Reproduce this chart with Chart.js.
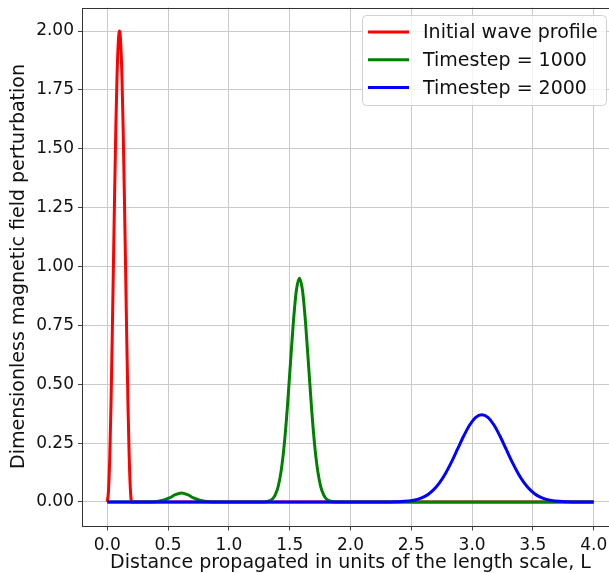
<!DOCTYPE html>
<html>
<head>
<meta charset="utf-8">
<script src="https://cdn.jsdelivr.net/npm/chart.js@4.4.1/dist/chart.umd.min.js"></script>
<style>
  html, body { margin: 0; padding: 0; background: #fff; overflow: hidden; }
  #wrap { width: 609px; height: 573px; overflow: hidden; }
</style>
</head>
<body>
<div id="wrap"><canvas id="waveChart" width="620" height="573"></canvas></div>
<script>
// Values
const redX = [0, 0.01, 0.02, 0.03, 0.04, 0.05, 0.06, 0.07, 0.08, 0.09, 0.10, 0.11, 0.12, 0.13, 0.14, 0.15, 0.16, 0.17, 0.18, 0.19, 0.20, 4.0];
const redY = [0, 0.05, 0.19, 0.41, 0.69, 1.0, 1.31, 1.59, 1.81, 1.95, 2.0, 1.95, 1.81, 1.59, 1.31, 1.0, 0.69, 0.41, 0.19, 0.05, 0, 0];

const greenX = [0, 0.36, 0.41, 0.46, 0.51, 0.56, 0.61, 0.66, 0.71, 0.76, 0.81, 0.86,
    1.28, 1.33, 1.355, 1.38, 1.405, 1.43, 1.455, 1.48, 1.505, 1.53, 1.555, 1.58,
    1.605, 1.63, 1.655, 1.68, 1.705, 1.73, 1.755, 1.78, 1.805, 1.83, 1.88, 4.0];
const greenY = [0, 0, 0.002, 0.007, 0.017, 0.031, 0.038, 0.031, 0.017, 0.007, 0.002, 0,
    0, 0.004, 0.011, 0.029, 0.065, 0.133, 0.242, 0.396, 0.581, 0.763, 0.899, 0.95,
    0.899, 0.763, 0.581, 0.396, 0.242, 0.133, 0.065, 0.029, 0.011, 0.004, 0, 0];

const blueX = [0, 2.28, 2.38, 2.48, 2.53, 2.58, 2.63, 2.68, 2.73, 2.78, 2.83, 2.88, 2.93, 2.98,
    3.03, 3.08, 3.13, 3.18, 3.23, 3.28, 3.33, 3.38, 3.43, 3.48, 3.53, 3.58, 3.63, 3.68, 3.78, 3.88, 4.0];
const blueY = [0, 0, 0.001, 0.004, 0.008, 0.016, 0.029, 0.050, 0.080, 0.120, 0.169, 0.224, 0.279, 0.327,
    0.359, 0.37, 0.359, 0.327, 0.279, 0.224, 0.169, 0.120, 0.080, 0.050, 0.029, 0.016, 0.008, 0.004, 0.001, 0, 0];

const seriesLabels = ['Initial wave profile', 'Timestep = 1000', 'Timestep = 2000'];
const xTicks = [0, 0.5, 1.0, 1.5, 2.0, 2.5, 3.0, 3.5, 4.0];
const xTickLabels = ['0.0', '0.5', '1.0', '1.5', '2.0', '2.5', '3.0', '3.5', '4.0'];
const yTicks = [0, 0.25, 0.5, 0.75, 1.0, 1.25, 1.5, 1.75, 2.0];
const yTickLabels = ['0.00', '0.25', '0.50', '0.75', '1.00', '1.25', '1.50', '1.75', '2.00'];

const toPoints = (xs, ys) => xs.map((x, i) => ({ x: x, y: ys[i] }));

Chart.defaults.font.family = "'DejaVu Sans', sans-serif";
Chart.defaults.color = '#111';

// frame round the plot area, like matplotlib spines
const framePlugin = {
    id: 'frame',
    afterDraw(chart) {
        const a = chart.chartArea;
        const ctx = chart.ctx;
        ctx.save();
        ctx.strokeStyle = '#333';
        ctx.lineWidth = 1;
        ctx.strokeRect(Math.round(a.left) - 0.5, Math.round(a.top) + 0.5, Math.round(a.right - a.left), Math.round(a.bottom - a.top));
        ctx.restore();
    }
};

// boxed legend in the upper right corner
const boxLegend = {
    id: 'boxLegend',
    afterDraw(chart) {
        const ctx = chart.ctx;
        const x = 362.5, y = 15.5, w = 244, h = 90, r = 4;
        ctx.save();
        ctx.beginPath();
        ctx.roundRect(x, y, w, h, r);
        ctx.fillStyle = 'rgba(255,255,255,0.8)';
        ctx.fill();
        ctx.strokeStyle = '#d0d0d0';
        ctx.lineWidth = 1;
        ctx.stroke();
        ctx.font = "19px 'DejaVu Sans'";
        ctx.textBaseline = 'middle';
        chart.data.datasets.forEach((ds, i) => {
            const ly = 32 + i * 27.8;
            ctx.beginPath();
            ctx.moveTo(368, ly);
            ctx.lineTo(409, ly);
            ctx.strokeStyle = ds.borderColor;
            ctx.lineWidth = 3;
            ctx.stroke();
            ctx.fillStyle = '#111';
            ctx.fillText(ds.label, 423, ly + 1);
        });
        ctx.restore();
    }
};

const config = {
    type: 'line',
    data: {
        datasets: [
            { label: seriesLabels[0], data: toPoints(redX, redY), borderColor: '#ff0000', order: 3 },
            { label: seriesLabels[1], data: toPoints(greenX, greenY), borderColor: '#008000', order: 2 },
            { label: seriesLabels[2], data: toPoints(blueX, blueY), borderColor: '#0000ff', order: 1 }
        ]
    },
    options: {
        responsive: false,
        animation: false,
        datasets: {
            line: { borderWidth: 3, pointRadius: 0, fill: false, cubicInterpolationMode: 'monotone' }
        },
        layout: { padding: { top: 7.5, right: 2, left: 0, bottom: 0 } },
        plugins: {
            legend: { display: false },
            tooltip: { enabled: false }
        },
        scales: {
            x: {
                type: 'linear',
                min: -0.2,
                max: 4.2,
                afterFit(s) { s.height = 47.5; s.paddingLeft = 0; s.paddingRight = 0; },
                afterBuildTicks(s) { s.ticks = xTicks.map(v => ({ value: v })); },
                border: { display: false },
                grid: { color: '#cacaca', lineWidth: 1, tickColor: '#444', tickLength: 5 },
                ticks: {
                    font: { size: 17 },
                    padding: 5,
                    maxRotation: 0,
                    callback: (v, i) => xTickLabels[i]
                },
                title: {
                    display: true,
                    text: 'Distance propagated in units of the length scale, L',
                    font: { size: 19 },
                    padding: { top: 0, bottom: -1 }
                }
            },
            y: {
                type: 'linear',
                min: -0.1,
                max: 2.1,
                afterFit(s) { s.width = 83; s.paddingTop = 0; s.paddingBottom = 0; },
                afterBuildTicks(s) { s.ticks = yTicks.map(v => ({ value: v })); },
                border: { display: false },
                grid: { color: '#cacaca', lineWidth: 1, tickColor: '#444', tickLength: 5 },
                ticks: {
                    font: { size: 17 },
                    padding: 4,
                    callback: (v, i) => yTickLabels[i]
                },
                title: {
                    display: true,
                    text: 'Dimensionless magnetic field perturbation',
                    font: { size: 19 },
                    padding: { top: 8, bottom: 0 }
                }
            }
        }
    },
    plugins: [framePlugin, boxLegend]
};

const waveChart = new Chart(document.getElementById('waveChart'), config);
</script>
</body>
</html>
